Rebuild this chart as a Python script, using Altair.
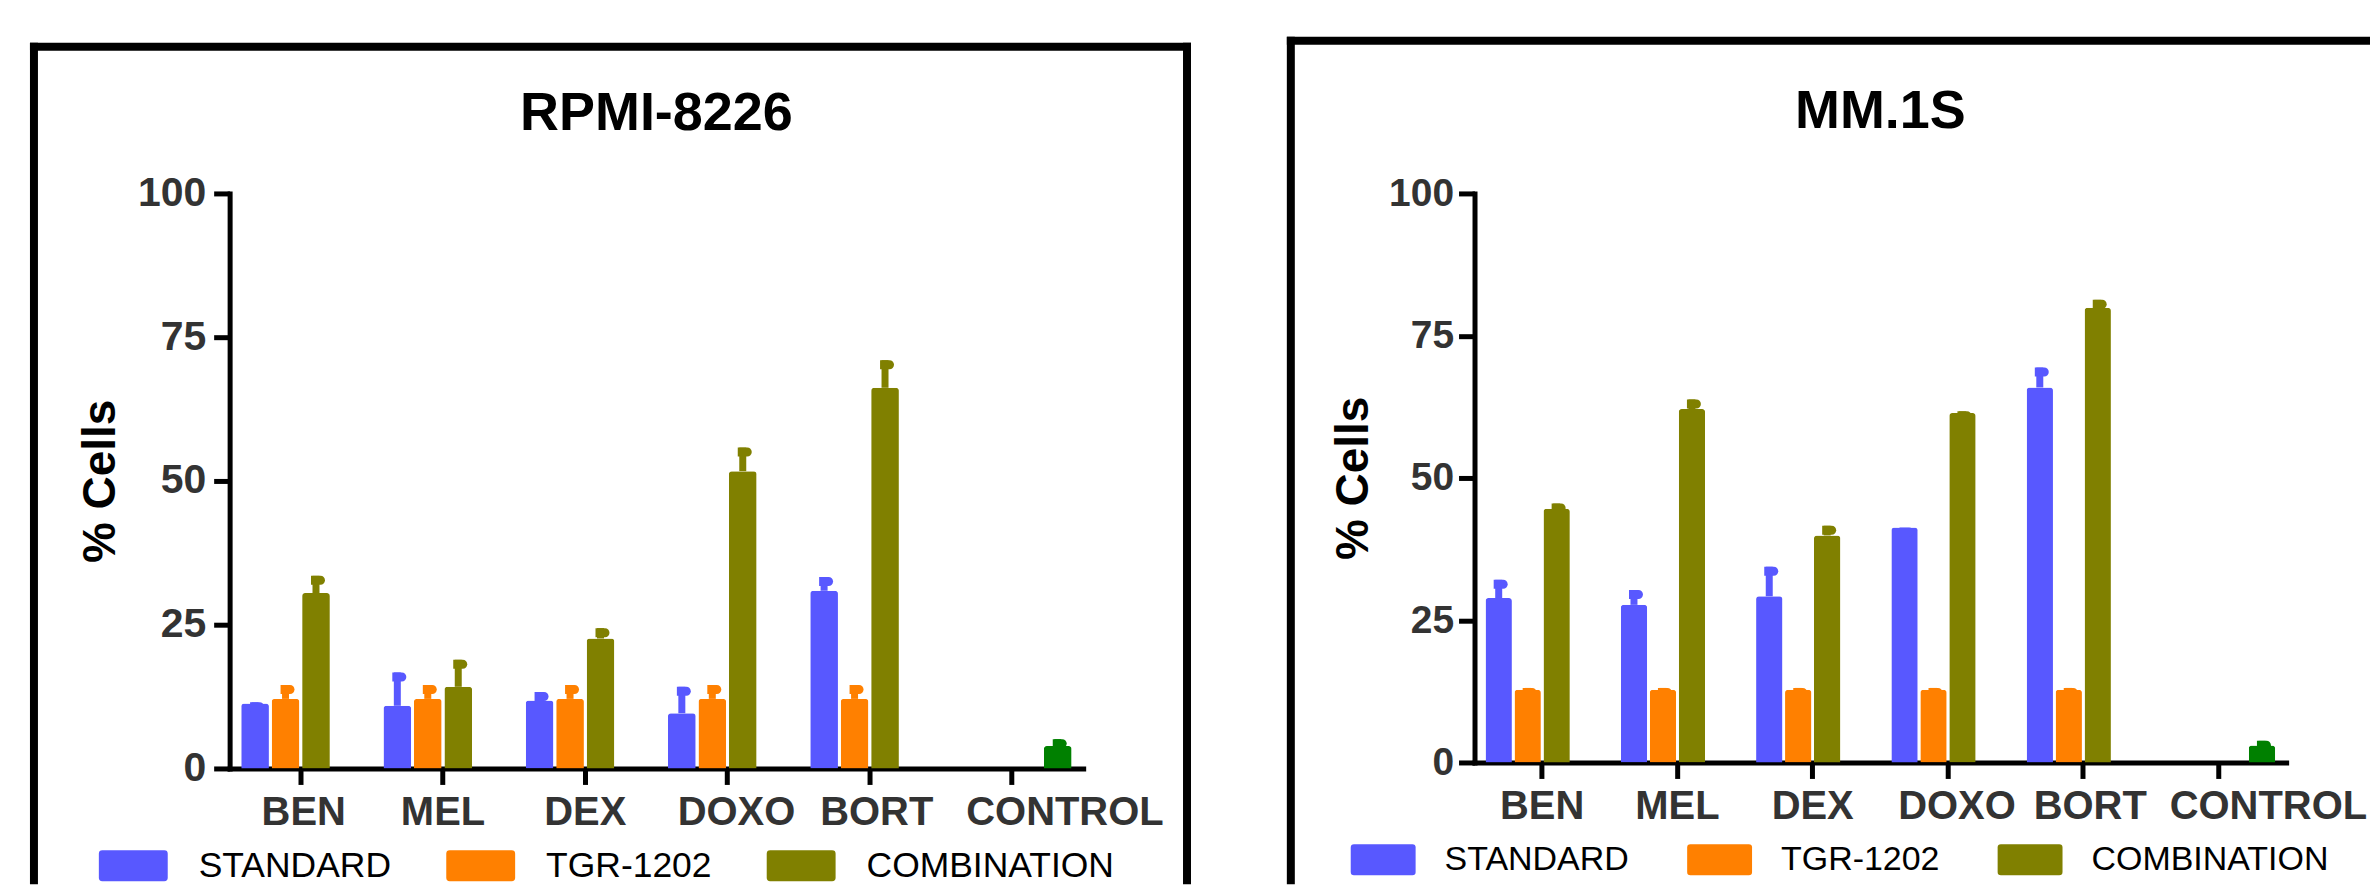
import altair as alt
import pandas as pd

FONT = "Liberation Sans"

categories = ["BEN", "MEL", "DEX", "DOXO", "BORT", "CONTROL"]
drugs = ["BEN", "MEL", "DEX", "DOXO", "BORT"]
series = ["STANDARD", "TGR-1202", "COMBINATION", "CONTROL"]
legend_series = ["STANDARD", "TGR-1202", "COMBINATION"]
colors = ["#5858FF", "#FF8000", "#808000", "#008000"]

# RPMI-8226 panel (means and SEM)
rpmi_title = "RPMI-8226"
rpmi_standard = [11.3, 10.9, 11.8, 9.6, 30.9]
rpmi_standard_sem = [0.2, 5.8, 1.5, 4.6, 2.4]
rpmi_tgr = [12.1, 12.1, 12.1, 12.1, 12.1]
rpmi_tgr_sem = [2.4, 2.4, 2.4, 2.4, 2.4]
rpmi_comb = [30.5, 14.2, 22.6, 51.7, 66.2]
rpmi_comb_sem = [3.0, 4.7, 1.8, 4.1, 4.8]
rpmi_control = 3.9
rpmi_control_sem = 1.2

# MM.1S panel (means and SEM)
mm_title = "MM.1S"
mm_standard = [28.9, 27.7, 29.2, 41.3, 65.9]
mm_standard_sem = [3.2, 2.6, 5.2, 0.0, 3.5]
mm_tgr = [12.8, 12.8, 12.8, 12.8, 12.8]
mm_tgr_sem = [0.3, 0.3, 0.3, 0.3, 0.3]
mm_comb = [44.6, 62.1, 39.9, 61.4, 79.9]
mm_comb_sem = [0.9, 1.7, 1.7, 0.3, 1.4]
mm_control = 3.0
mm_control_sem = 0.8

y_ticks = [0, 25, 50, 75, 100]
y_title = "% Cells"

CAP = "M-0.5,0 L0.45,0 A0.45,0.45 0 0 1 0.45,0.9 L-0.5,0.9 Z"


def legend_path(h):
    return (f"M-1,{-h+0.1} Q-1,{-h} -0.9,{-h} L0.9,{-h} Q1,{-h} 1,{-h+0.1} "
            f"L1,{h-0.1} Q1,{h} 0.9,{h} L-0.9,{h} Q-1,{h} -1,{h-0.1} Z")


def build_df(std, std_sem, tgr, tgr_sem, comb, comb_sem, ctrl, ctrl_sem):
    rows = []
    for name, means, sems in [("STANDARD", std, std_sem),
                              ("TGR-1202", tgr, tgr_sem),
                              ("COMBINATION", comb, comb_sem)]:
        for c, m, s in zip(drugs, means, sems):
            rows.append({"cat": c, "series": name, "mean": m, "upper": m + s})
    rows.append({"cat": "CONTROL", "series": "CONTROL", "mean": ctrl, "upper": ctrl + ctrl_sem})
    return pd.DataFrame(rows)


def panel(df, title, w, h, p):
    offs = [{"test": f"datum.label == '{k}'", "value": v} for k, v in p["xlab_off"].items()]
    x_axis = alt.Axis(title=None, labelAngle=0, labelFont=FONT, labelFontSize=40,
                      labelFontWeight="bold", labelColor="#333333", labelPadding=8,
                      labelLimit=0, labelOverlap=False,
                      tickSize=16, tickWidth=5, tickColor="black", domainColor="black",
                      domainWidth=5, domainCap="square",
                      labelOffset={"condition": offs, "value": 0})
    y_axis = alt.Axis(values=y_ticks, title=y_title, titleFont=FONT, titleFontSize=46,
                      titleFontWeight="bold", titleColor="black", titleAngle=270,
                      titleX=p["ytitle_x"], titleY=h / 2, titleBaseline="alphabetic",
                      titleAlign="center", labelFont=FONT, labelFontSize=p["ylab_size"],
                      labelFontWeight="bold", labelColor="#333333", labelPadding=p["ylab_pad"],
                      tickSize=16, tickWidth=5, tickColor="black", domainColor="black",
                      domainWidth=5, domainCap="square", grid=False)
    x = alt.X("cat:N", sort=categories,
              scale=alt.Scale(domain=categories, paddingInner=0, paddingOuter=0), axis=x_axis)
    xo = alt.XOffset("series:N", sort=series,
                     scale=alt.Scale(domain=series, paddingInner=0.09, paddingOuter=0.38))
    yscale = alt.Scale(domain=[0, 100], nice=False)
    cscale = alt.Scale(domain=series, range=colors)
    legend = alt.Legend(orient="none", legendX=p["leg_x"], legendY=p["leg_y"],
                        direction="horizontal", values=legend_series,
                        symbolType=legend_path(p["sym_h"]), symbolSize=p["sym_size"],
                        symbolStrokeWidth=0, symbolOpacity=1, labelFont=FONT,
                        labelFontSize=p["leg_font"], labelColor="black",
                        labelOffset=p["leg_off"], columnPadding=p["leg_colpad"],
                        padding=0, title=None, labelLimit=500, gridAlign="none")
    bars = alt.Chart(df).mark_bar(cornerRadiusTopLeft=3, cornerRadiusTopRight=3).encode(
        x=x, xOffset=xo,
        y=alt.Y("mean:Q", scale=yscale, axis=y_axis),
        color=alt.Color("series:N", scale=cscale, legend=legend))
    stems = alt.Chart(df).mark_rule(strokeWidth=7).encode(
        x=x, xOffset=xo,
        y=alt.Y("mean:Q", scale=yscale, axis=y_axis), y2="upper:Q",
        color=alt.Color("series:N", scale=cscale, legend=legend))
    caps = alt.Chart(df).mark_point(shape=CAP, filled=True, size=400, opacity=1,
                                    strokeWidth=0).encode(
        x=x, xOffset=xo,
        y=alt.Y("upper:Q", scale=yscale, axis=y_axis),
        color=alt.Color("series:N", scale=cscale, legend=legend))
    tdf = pd.DataFrame({"t": [title]})
    ttl = alt.Chart(tdf).mark_text(font=FONT, fontSize=54, fontWeight="bold", color="black",
                                   align="center", baseline="alphabetic").encode(
        x=alt.value(w / 2), y=alt.value(p["title_y"]), text="t:N")
    one = pd.DataFrame({"k": [0]})
    fl, ft, fr, fb = p["frame"]
    fr_style = dict(strokeWidth=8, color="black", strokeCap="square")
    f1 = alt.Chart(one).mark_rule(**fr_style).encode(
        x=alt.value(fl), y=alt.value(ft), y2=alt.value(fb))
    f2 = alt.Chart(one).mark_rule(**fr_style).encode(
        x=alt.value(fl), x2=alt.value(fr), y=alt.value(ft))
    layers = [f1, f2]
    if p["right_edge"]:
        layers.append(alt.Chart(one).mark_rule(**fr_style).encode(
            x=alt.value(fr), y=alt.value(ft), y2=alt.value(fb)))
    return alt.layer(bars, stems, caps, ttl, *layers).properties(width=w, height=h)


left_df = build_df(rpmi_standard, rpmi_standard_sem, rpmi_tgr, rpmi_tgr_sem,
                   rpmi_comb, rpmi_comb_sem, rpmi_control, rpmi_control_sem)
right_df = build_df(mm_standard, mm_standard_sem, mm_tgr, mm_tgr_sem,
                    mm_comb, mm_comb_sem, mm_control, mm_control_sem)

left = panel(left_df, rpmi_title, 855, 576, {
    "xlab_off": {"BEN": 3, "DOXO": 9, "BORT": 7, "CONTROL": 53},
    "ytitle_x": -115, "ylab_pad": 8, "ylab_size": 41, "title_y": -64,
    "leg_x": -131, "leg_y": 639, "sym_h": 0.45, "sym_size": 4761, "leg_font": 35.5,
    "leg_off": 31, "leg_colpad": 55,
    "frame": (-196, -147, 959, 688), "right_edge": True,
})
right = panel(right_df, mm_title, 813, 570, {
    "xlab_off": {"DOXO": 9, "BORT": 7, "CONTROL": 50},
    "ytitle_x": -107, "ylab_pad": 5, "ylab_size": 39, "title_y": -66,
    "leg_x": -124, "leg_y": 635, "sym_h": 0.477, "sym_size": 4225, "leg_font": 34,
    "leg_off": 29, "leg_colpad": 58,
    "frame": (-184, -153, 893, 688), "right_edge": False,
})

chart = alt.hconcat(left, right, spacing=392, bounds="flush").resolve_scale(
    color="independent", xOffset="independent"
).properties(
    padding={"left": 20, "top": 26, "right": 0, "bottom": 0},
    background="white",
).configure_view(strokeWidth=0, stroke="transparent")

chart.save("out.html", embed_options={"renderer": "svg", "actions": False})
